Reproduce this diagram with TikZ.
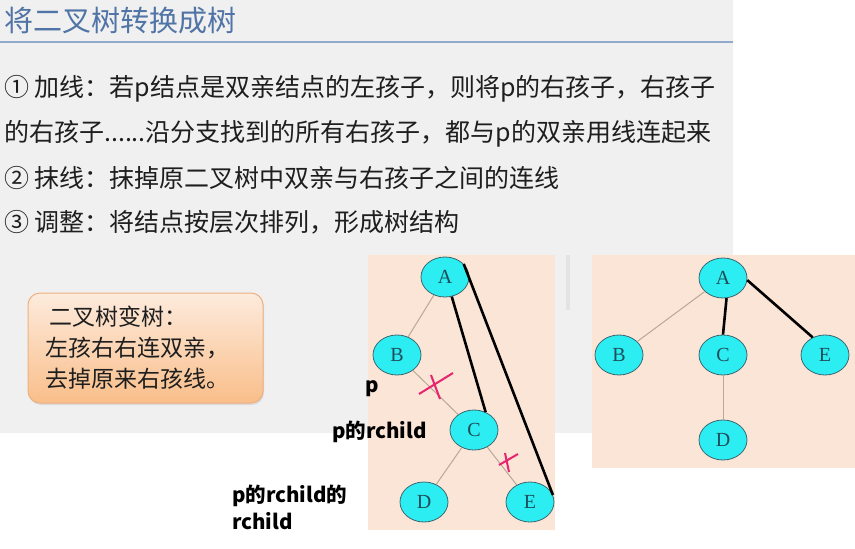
\documentclass[tikz,border=0pt]{standalone}
\usepackage{fontspec}
\setmainfont{Liberation Sans}
\newfontfamily\cjk{Noto Sans CJK SC}
\newfontfamily\treefont{Liberation Serif}
\usepackage{tikz}
\usetikzlibrary{
  positioning,
  calc,
  shapes.geometric,
  shadows
}
\definecolor{slidegray}{HTML}{F0F0F0}
\definecolor{titleblue}{HTML}{5174A6}
\definecolor{ruleblue}{HTML}{8FAACB}
\definecolor{textdark}{HTML}{1E1E1E}
\definecolor{peach}{HTML}{FBE5D7}
\definecolor{nodecyan}{HTML}{2CEEF2}
\definecolor{nodeedge}{HTML}{3A6670}
\definecolor{letterteal}{HTML}{1D4E5A}
\definecolor{branchtan}{HTML}{B8A898}
\definecolor{crossred}{HTML}{E8246E}
\definecolor{boxtop}{HTML}{FDEBDD}
\definecolor{boxbot}{HTML}{F9BE8A}
\definecolor{boxline}{HTML}{EEB080}

\begin{document}
\begin{tikzpicture}[x=1pt, y=-1pt,
      treenode/.style={ellipse, draw=nodeedge, line width=0.8pt, fill=nodecyan, minimum width=48pt, minimum height=40pt, inner sep=0pt, text=letterteal, font=\treefont\fontsize{20}{20}\selectfont},
      branch/.style={draw=branchtan, line width=1pt},
      added/.style={draw=black, line width=2.6pt},
      cut/.style={draw=crossred, line width=2pt},
      textline/.style={anchor=base west, inner sep=0pt, text=textdark, font=\cjk\fontsize{25}{30}\selectfont},
      tag/.style={anchor=base west, inner sep=0pt, font=\cjk\bfseries\fontsize{20.5}{27}\selectfont},
      summary/.style={rectangle, rounded corners=12pt, draw=boxline, line width=1pt, top color=boxtop, bottom color=boxbot, drop shadow={opacity=0.18, shadow xshift=1pt, shadow yshift=-2pt}, minimum width=235pt, minimum height=110pt, text width=200pt, align=left, text=textdark, font=\cjk\fontsize{23}{31}\selectfont}
    ]
      \useasboundingbox (0,0) rectangle (855,549);
      \fill[white] (0,0) rectangle (855,549);

      % Slide
      \fill[slidegray] (0,0) rectangle (733,433);
      \node[anchor=base west, inner sep=0pt, text=titleblue, font=\cjk\fontsize{29}{34}\selectfont] (title) at (4,31) {将二叉树转换成树};
      \draw[ruleblue, line width=2.8pt] (0,42) -- (733,42);

      % Steps
      \node[textline] (step1) at (4,96) {① 加线：若p结点是双亲结点的左孩子，则将p的右孩子，右孩子};
      \node[textline] (step2) at (4,141) {的右孩子......沿分支找到的所有右孩子，都与p的双亲用线连起来};
      \node[textline] (step3) at (4,187) {② 抹线：抹掉原二叉树中双亲与右孩子之间的连线};
      \node[textline] (step4) at (4,231) {③ 调整：将结点按层次排列，形成树结构};

      % Rule of thumb
      \node[summary] (rule) at (145.5,348) {\hspace{4pt}二叉树变树：\\左孩右右连双亲，\\去掉原来右孩线。};

      % Panels
      \fill[gray!22] (566,255) rectangle (570,310);
      \fill[peach] (368,255) rectangle (555,530);
      \fill[peach] (592,255) rectangle (855,468);

      % Binary tree
      \node[treenode] (bA) at (445,277) {A};
      \node[treenode] (bB) at (397,355) {B};
      \node[treenode] (bC) at (474,430) {C};
      \node[treenode] (bD) at (424,502) {D};
      \node[treenode] (bE) at (530,502) {E};
      \draw[branch] (bA) -- (bB);
      \draw[branch] (bB) -- (bC);
      \draw[branch] (bC) -- (bD);
      \draw[branch] (bC) -- (bE);
      \draw[added] (bA.-71) -- (bC.57);
      \draw[added] (bA.35) -- (bE.17);
      \draw[cut] (419,394) -- (453,373);
      \draw[cut] (431,375) -- (440,399);
      \draw[cut] (499,465) -- (518,454);
      \draw[cut] (505,453) -- (509,472);

      % Tree
      \node[treenode] (tA) at (723,278) {A};
      \node[treenode] (tB) at (619,355) {B};
      \node[treenode] (tC) at (723,355) {C};
      \node[treenode] (tE) at (825,355) {E};
      \node[treenode] (tD) at (723,440) {D};
      \draw[branch] (tA) -- (tB);
      \draw[branch] (tC) -- (tD);
      \draw[added] (tA.-80) -- (tC.north);
      \draw[added] (tA.-5) -- (tE.125);

      % Labels
      \node[tag] (lblp) at (365,392) {p};
      \node[tag] (lblrc) at (332,438) {p的rchild};
      \node[tag, anchor=west, align=left] (lblrrc) at (232,507) {p的rchild的\\rchild};
    \end{tikzpicture}
\end{document}
